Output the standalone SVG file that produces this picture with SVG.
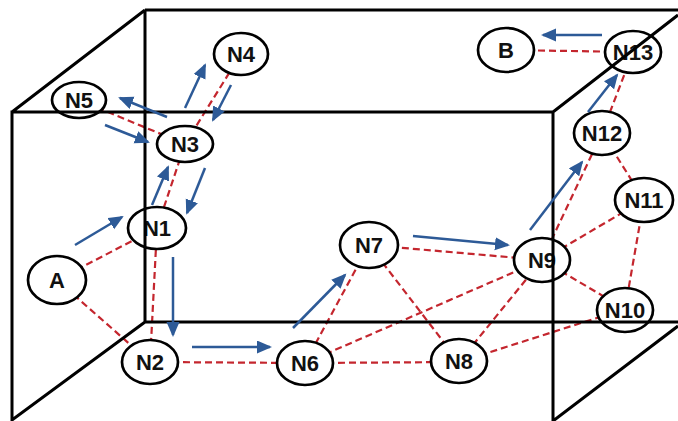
<svg xmlns="http://www.w3.org/2000/svg" width="678" height="421" viewBox="0 0 678 421">
<style>
.box{fill:none;stroke:#000;stroke-width:3}
.edge{stroke:#c4262e;stroke-width:2.2;stroke-dasharray:7 4;fill:none}
.arr{stroke:#2d5a97;stroke-width:2.5;fill:none;marker-end:url(#ah)}
.node ellipse{fill:#fff;stroke:#000;stroke-width:2.7}
.node text{font-family:"Liberation Sans",Arial,sans-serif;font-weight:bold;font-size:22px;text-anchor:middle;fill:#111}
</style>
<defs>
<marker id="ah" markerUnits="userSpaceOnUse" markerWidth="16" markerHeight="14" refX="13" refY="6.5" orient="auto">
<path d="M0,0 L15,6.5 L0,13 z" fill="#2d5a97"/>
</marker>
</defs>
<rect width="678" height="421" fill="#fff"/>
<g id="connectors">
<line class="edge" x1="57" y1="280" x2="157" y2="228"/>
<line class="edge" x1="57" y1="280" x2="150" y2="362"/>
<line class="edge" x1="157" y1="228" x2="150" y2="362"/>
<line class="edge" x1="157" y1="228" x2="185" y2="144"/>
<line class="edge" x1="185" y1="144" x2="241" y2="54"/>
<line class="edge" x1="185" y1="144" x2="79" y2="100"/>
<line class="edge" x1="150" y1="362" x2="305" y2="363"/>
<line class="edge" x1="305" y1="363" x2="369" y2="245"/>
<line class="edge" x1="305" y1="363" x2="459" y2="362"/>
<line class="edge" x1="305" y1="363" x2="542" y2="260"/>
<line class="edge" x1="369" y1="245" x2="542" y2="260"/>
<line class="edge" x1="369" y1="245" x2="459" y2="362"/>
<line class="edge" x1="459" y1="362" x2="542" y2="260"/>
<line class="edge" x1="459" y1="362" x2="625" y2="309"/>
<line class="edge" x1="542" y1="260" x2="625" y2="309"/>
<line class="edge" x1="542" y1="260" x2="644" y2="200"/>
<line class="edge" x1="542" y1="260" x2="602" y2="133"/>
<line class="edge" x1="625" y1="309" x2="644" y2="200"/>
<line class="edge" x1="644" y1="200" x2="602" y2="133"/>
<line class="edge" x1="602" y1="133" x2="633" y2="52"/>
<line class="edge" x1="633" y1="52" x2="507" y2="50"/>
</g>
<g id="nodes">
<g id="A" class="node"><ellipse cx="57" cy="280" rx="29" ry="24"/><text x="57" y="288">A</text></g>
<g id="B" class="node"><ellipse cx="506" cy="50" rx="28" ry="22"/><text x="506" y="58">B</text></g>
<g id="N1" class="node"><ellipse cx="157" cy="228" rx="29" ry="21"/><text x="157" y="236">N1</text></g>
<g id="N2" class="node"><ellipse cx="150" cy="362" rx="28" ry="22"/><text x="150" y="370">N2</text></g>
<g id="N3" class="node"><ellipse cx="185" cy="144" rx="28" ry="18"/><text x="185" y="152">N3</text></g>
<g id="N4" class="node"><ellipse cx="241" cy="54" rx="27" ry="21"/><text x="241" y="62">N4</text></g>
<g id="N5" class="node"><ellipse cx="79" cy="100" rx="27" ry="18"/><text x="79" y="108">N5</text></g>
<g id="N6" class="node"><ellipse cx="305" cy="363" rx="28" ry="22"/><text x="305" y="371">N6</text></g>
<g id="N7" class="node"><ellipse cx="369" cy="245" rx="29" ry="23"/><text x="369" y="253">N7</text></g>
<g id="N8" class="node"><ellipse cx="459" cy="361" rx="28" ry="22"/><text x="459" y="369">N8</text></g>
<g id="N9" class="node"><ellipse cx="542" cy="260" rx="28" ry="22"/><text x="542" y="268">N9</text></g>
<g id="N10" class="node"><ellipse cx="625" cy="310" rx="28" ry="22"/><text x="625" y="318">N10</text></g>
<g id="N11" class="node"><ellipse cx="644" cy="200" rx="29" ry="22"/><text x="644" y="208">N11</text></g>
<g id="N12" class="node"><ellipse cx="602" cy="133" rx="28" ry="22"/><text x="602" y="141">N12</text></g>
<g id="N13" class="node"><ellipse cx="633" cy="52" rx="28" ry="21"/><text x="633" y="60">N13</text></g>
</g>
<g id="box">
<path class="box" d="M145,10 H678 M145,10 V322 H678 M12,421 V112 H553 V421 M12,112 L145,10 M145,322 L12,420 M553,112 L678,15 M553,421 L678,326"/>
</g>
<g id="flow">
<line class="arr" x1="75" y1="245" x2="122" y2="217"/>
<line class="arr" x1="152" y1="205" x2="168" y2="167"/>
<line class="arr" x1="205" y1="168" x2="187" y2="213"/>
<line class="arr" x1="185" y1="108" x2="205" y2="65"/>
<line class="arr" x1="231" y1="85" x2="213" y2="120"/>
<line class="arr" x1="167" y1="117" x2="120" y2="98"/>
<line class="arr" x1="105" y1="125" x2="148" y2="142"/>
<line class="arr" x1="173" y1="257" x2="173" y2="335"/>
<line class="arr" x1="192" y1="347" x2="270" y2="347"/>
<line class="arr" x1="293" y1="328" x2="345" y2="275"/>
<line class="arr" x1="413" y1="236" x2="508" y2="245"/>
<line class="arr" x1="530" y1="230" x2="582" y2="162"/>
<line class="arr" x1="588" y1="112" x2="617" y2="75"/>
<line class="arr" x1="602" y1="35" x2="543" y2="35"/>
</g>
</svg>
